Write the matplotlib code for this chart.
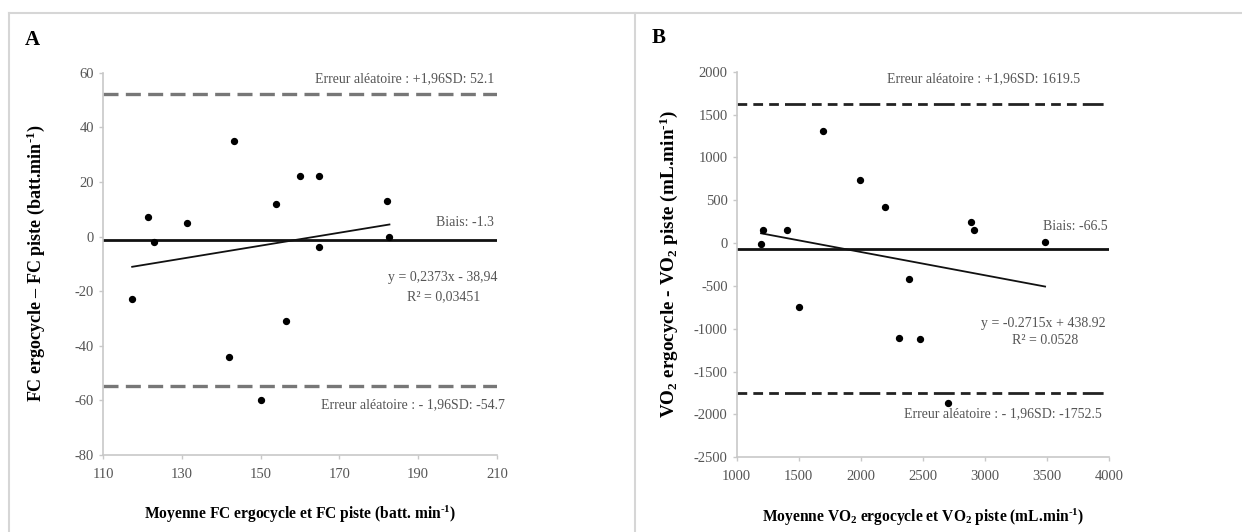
import matplotlib
matplotlib.use("Agg")
import matplotlib.pyplot as plt
from matplotlib.lines import Line2D
import numpy as np

plt.rcParams['font.family'] = ['Liberation Serif', 'DejaVu Serif']
plt.rcParams['mathtext.fontset'] = 'custom'
plt.rcParams['mathtext.rm'] = 'Liberation Serif'
plt.rcParams['mathtext.bf'] = 'Liberation Serif:bold'
plt.rcParams['mathtext.it'] = 'Liberation Serif:italic'
plt.rcParams['axes.unicode_minus'] = False

# ---- Panel A data: heart rate (FC) ----
fc_mean = [117.4, 121.3, 122.9, 131.4, 142.0, 143.3, 150.0, 153.9, 156.4, 159.9, 164.9, 164.9, 182.2, 182.7]
fc_diff = [-23, 7, -2, 5, -44, 35, -60, 12, -31, 22, 22, -4, 13, 0]
fc_bias = -1.3
fc_upper = 52.1
fc_lower = -54.7
fc_slope, fc_intercept = 0.2373, -38.94
fc_xticks = [110, 130, 150, 170, 190, 210]
fc_yticks = [-80, -60, -40, -20, 0, 20, 40, 60]

# ---- Panel B data: VO2 ----
vo_mean = [1196, 1212, 1405, 1500, 1695, 1996, 2193, 2306, 2389, 2475, 2701, 2886, 2910, 3485]
vo_diff = [-15, 155, 150, -745, 1305, 735, 420, -1105, -420, -1125, -1865, 245, 155, 15]
vo_bias = -66.5
vo_upper = 1619.5
vo_lower = -1752.5
vo_slope, vo_intercept = -0.2715, 438.92
vo_xticks = [1000, 1500, 2000, 2500, 3000, 3500, 4000]
vo_yticks = [-2500, -2000, -1500, -1000, -500, 0, 500, 1000, 1500, 2000]

W, H = 1242, 532
fig = plt.figure(figsize=(W / 100, H / 100), dpi=100)
fig.patch.set_facecolor('white')

def ax_rect(l, t, r, b):
    return [l / W, 1 - b / H, (r - l) / W, (b - t) / H]

axA = fig.add_axes(ax_rect(103, 72.7, 497, 455))
axB = fig.add_axes(ax_rect(736.7, 71.7, 1109, 457.3))

grid_col = '#c8c8c8'
txt_col = '#555555'

def style(ax):
    for s in ['top', 'right']:
        ax.spines[s].set_visible(False)
    for s in ['left', 'bottom']:
        ax.spines[s].set_color(grid_col)
        ax.spines[s].set_linewidth(1.2)
    ax.tick_params(axis='both', colors=grid_col, labelcolor=txt_col, labelsize=10.5,
                   length=3, width=1, direction='out')
    ax.tick_params(axis='x', pad=6)

SUP = '$^{\\mathbf{\\text{-}1}}$'
SUB2 = '$_{\\mathbf{2}}$'

# Panel A
style(axA)
axA.set_xlim(110, 210)
axA.set_ylim(-80, 60)
axA.set_xticks(fc_xticks)
axA.set_yticks(fc_yticks)
axA.axhline(fc_upper, color='#777777', lw=2.4, dashes=(4.5, 2.2), zorder=2)
axA.axhline(fc_lower, color='#777777', lw=2.4, dashes=(4.5, 2.2), zorder=2)
axA.axhline(fc_bias, color='#111111', lw=2.0, zorder=2)
xr = np.array([min(fc_mean), max(fc_mean)])
axA.plot(xr, fc_slope * xr + fc_intercept, color='#111111', lw=1.3, zorder=3)
axA.scatter(fc_mean, fc_diff, s=18, color='black', zorder=4)
axA.set_xlabel('Moyenne FC ergocycle et FC piste (batt. min' + SUP + ')',
               fontsize=11.2, fontweight='bold', labelpad=17)
axA.set_ylabel('FC ergocycle – FC piste (batt.min' + SUP + ')',
               fontsize=13, fontweight='bold', labelpad=20)

# Panel B
style(axB)
axB.set_xlim(1000, 4000)
axB.set_ylim(-2500, 2000)
axB.set_xticks(vo_xticks)
axB.set_yticks(vo_yticks)
dash_b = (3.5, 2.2, 3.5, 2.2, 3.5, 2.2, 7.5, 2.2)
axB.axhline(vo_upper, color='#222222', lw=2.0, dashes=dash_b, zorder=2)
axB.axhline(vo_lower, color='#222222', lw=2.0, dashes=dash_b, zorder=2)
axB.axhline(vo_bias, color='#111111', lw=2.0, zorder=2)
xr = np.array([min(vo_mean), max(vo_mean)])
axB.plot(xr, vo_slope * xr + vo_intercept, color='#111111', lw=1.3, zorder=3)
axB.scatter(vo_mean, vo_diff, s=18, color='black', zorder=4)
axB.set_xlabel('Moyenne VO' + SUB2 + ' ergocycle et VO' + SUB2 + ' piste (mL.min' + SUP + ')',
               fontsize=11.2, fontweight='bold', labelpad=17)
axB.set_ylabel('VO' + SUB2 + ' ergocycle - VO' + SUB2 + ' piste (mL.min' + SUP + ')',
               fontsize=13.8, fontweight='bold', labelpad=10)

def ftext(x, y, s, ha='right', size=10, color=txt_col, weight='normal'):
    fig.text(x / W, 1 - y / H, s, ha=ha, va='center', fontsize=size, color=color,
             fontweight=weight)

ftext(494, 79, 'Erreur aléatoire : +1,96SD: 52.1')
ftext(494, 222, 'Biais: -1.3')
ftext(498, 278, 'y = 0,2373x - 38,94')
ftext(480, 297, 'R² = 0,03451')
ftext(505, 405, 'Erreur aléatoire : - 1,96SD: -54.7')

ftext(1080, 79, 'Erreur aléatoire : +1,96SD: 1619.5')
ftext(1108, 226, 'Biais: -66.5')
ftext(1106, 323, 'y = -0.2715x + 438.92')
ftext(1078, 341, 'R² = 0.0528')
ftext(1102, 414, 'Erreur aléatoire : - 1,96SD: -1752.5')

ftext(25, 40, 'A', ha='left', size=15, color='black', weight='bold')
ftext(652, 38, 'B', ha='left', size=15, color='black', weight='bold')

# frame lines
bc = '#d6d6d6'
fig.add_artist(Line2D([9 / W, 1], [1 - 13 / H, 1 - 13 / H], color=bc, lw=1.5))
fig.add_artist(Line2D([9 / W, 9 / W], [0, 1 - 13 / H], color=bc, lw=1.5))
fig.add_artist(Line2D([635 / W, 635 / W], [0, 1 - 13 / H], color=bc, lw=1.5))

fig.savefig('out.png', dpi=100, facecolor='white')
